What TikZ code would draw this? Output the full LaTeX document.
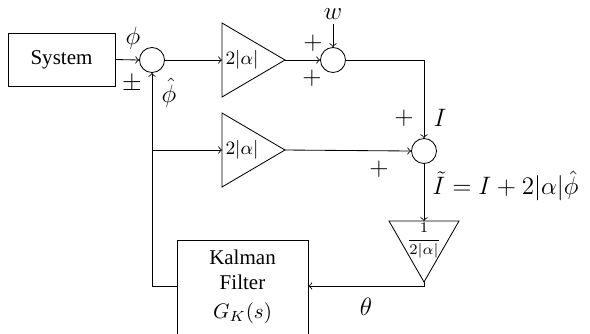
\documentclass[tikz,border=0pt]{standalone}
\usepackage{fontspec}
\setmainfont{Liberation Serif}
\begin{document}
\begin{tikzpicture}[x=0.476pt,y=-0.476pt,
  blk/.style={draw,line width=0.4pt,rectangle,inner sep=0pt},
  sumc/.style={draw,line width=0.4pt,circle,minimum size=11.9pt,inner sep=0pt},
  lbl/.style={inner sep=0pt,font=\large},
  wire/.style={line width=0.4pt},
  arr/.style={->,line width=0.4pt}]
\useasboundingbox (0,0) rectangle (590,333);
\clip (0,0) rectangle (590,333);
% blocks
\node[blk,minimum width=50.9pt,minimum height=25.2pt] (sys) at (61.5,59.5) {System};
\node[sumc] (s1) at (152,60) {};
\node[sumc] (s2) at (333,60) {};
\node[sumc] (s3) at (424,151) {};
\node[blk,minimum width=62.4pt,minimum height=45.2pt] (kf) at (242.5,287.5) {};
\node[inner sep=0pt,align=center] (kft) at (242.5,270) {Kalman\\Filter};
\node[inner sep=0pt] (kfg) at (242.5,313) {$G_K(s)$};
% amplifiers
\coordinate (a1in) at (222,60); \coordinate (a1tip) at (285,60);
\draw[wire] (222,23) -- (a1tip) -- (222,97) -- cycle;
\node[inner sep=0pt,font=\small] (a1t) at (242,60) {$2|\alpha|$};
\coordinate (a2in) at (222,150); \coordinate (a2tip) at (285,150);
\draw[wire] (222,113) -- (a2tip) -- (222,187) -- cycle;
\node[inner sep=0pt,font=\small] (a2t) at (242,150) {$2|\alpha|$};
\coordinate (a3in) at (424,221); \coordinate (a3tip) at (424,282);
\draw[wire] (389,221) -- (459,221) -- (a3tip) -- cycle;
\node[inner sep=0pt,font=\scriptsize] (a3t) at (424,241) {$\displaystyle\frac{1}{2|\alpha|}$};
% coordinates
\coordinate (br) at (152,150);
\coordinate (fb) at (424,286);
\coordinate (cr) at (424,60);
% labels
\node[lbl] (w) at (333,14) {$w$};
\node[lbl] at (133,38) {$\phi$};
\node[lbl] at (132,84) {$\pm$};
\node[lbl] at (169,93) {$\hat\phi$};
\node[lbl] at (313,43) {$+$};
\node[lbl] at (312,78) {$+$};
\node[lbl] at (404,118) {$+$};
\node[lbl] at (440,118) {$I$};
\node[lbl] at (379,169) {$+$};
\node[lbl,anchor=west] at (432,186) {$\tilde I = I + 2|\alpha|\hat\phi$};
\node[lbl] at (366,307) {$\theta$};
% connectors
\draw[arr] (sys.east) -- (s1.west);
\draw[arr] (s1.east) -- (a1in);
\draw[arr] (a1tip) -- (s2.west);
\draw[arr] (w.south) ++(0,4) -- (s2.north);
\draw[arr] (s2.east) -- (cr) -- (s3.north);
\draw[arr] (a2tip) -- (s3.west);
\draw[arr] (s3.south) -- (a3in);
\draw[arr] (a3tip) -- (fb) -- (fb -| kf.east);
\draw[arr] (kf.west |- fb) -- (fb -| s1) -- (s1.south);
\draw[arr] (br) -- (a2in);
\end{tikzpicture}
\end{document}
